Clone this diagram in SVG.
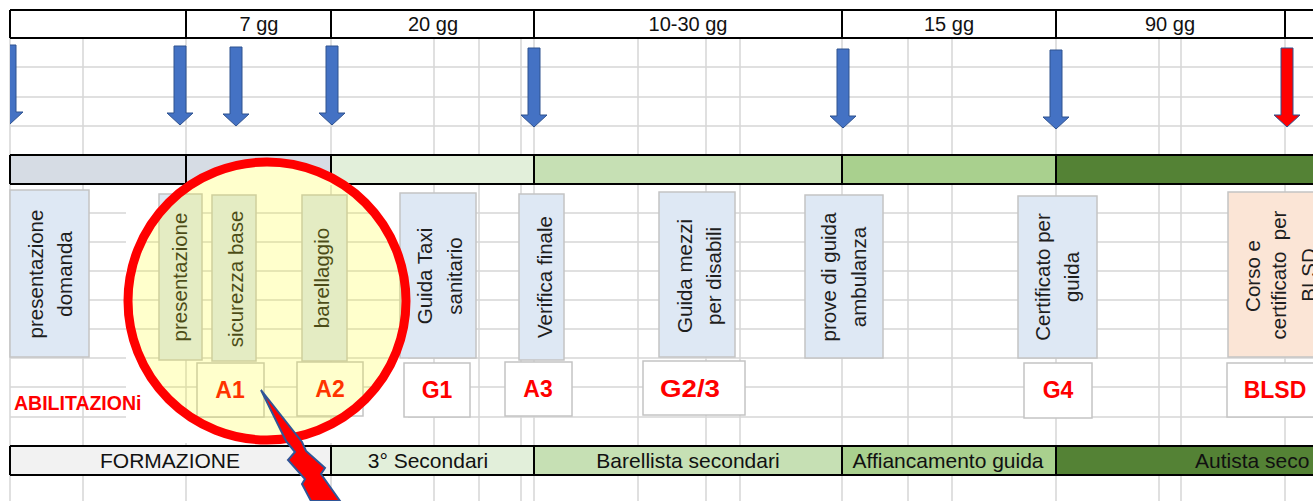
<svg xmlns="http://www.w3.org/2000/svg" xmlns:xlink="http://www.w3.org/1999/xlink" width="1313" height="501" viewBox="0 0 1313 501">
<style>
.grid{stroke:#d6d6d6;stroke-width:1.5;fill:none}
.blk{stroke:#000;stroke-width:2;fill:none}
.hdr{font-family:"Liberation Sans",Arial,sans-serif;font-size:20px;fill:#111;text-anchor:middle}
.bot{font-family:"Liberation Sans",Arial,sans-serif;font-size:21px;fill:#111;text-anchor:middle}
.rt{font-family:"Liberation Sans",Arial,sans-serif;font-size:20.5px;fill:#1e1e1e;text-anchor:middle}
.box{fill:#dee8f4;stroke:#c4c4c4;stroke-width:1.5}
.peach{fill:#fbe5d6;stroke:#c4c4c4;stroke-width:1.5}
.lbl{fill:#fff;stroke:#c4c4c4;stroke-width:1.5}
.lt{font-family:"Liberation Sans",Arial,sans-serif;font-size:23px;font-weight:bold;fill:#ff0000;text-anchor:middle}
.arrB{fill:#4472c4;stroke:#2f528f;stroke-width:1}
.arrR{fill:#ff0000;stroke:#2f528f;stroke-width:1}
</style>
<defs>
<polygon id="arr" points="-6,0 6,0 6,67 13,67 0,79 -13,67 -6,67"/>
<clipPath id="clipL"><rect x="10" y="0" width="1303" height="501"/></clipPath>
</defs>
<rect width="1313" height="501" fill="#fff"/>

<g id="grid">
<g class="grid">
<path d="M10 67H1313M10 97H1313M10 126H1313M10 213H1313M10 242H1313M10 271H1313M10 300H1313M10 329H1313M10 358H1313M10 387H1313M10 417H1313"/>
<path d="M10 38V501M83 38V501M186 38V501M331 38V501M434 38V501M479 38V501M521 38V501M534 38V501M638 38V501M706 38V501M740 38V501M842 38V501M908 38V501M952 38V501M1056 38V501M1159 38V501M1181 38V501M1285 38V501"/>
</g>
</g>

<g id="header">
<path class="blk" d="M10 10H1313M10 38H1313M10 10V38M186 10V38M331 10V38M534 10V38M842 10V38M1056 10V38M1285 10V38"/>
<text class="hdr" x="259" y="31">7 gg</text>
<text class="hdr" x="433" y="31">20 gg</text>
<text class="hdr" x="688" y="31">10-30 gg</text>
<text class="hdr" x="949" y="31">15 gg</text>
<text class="hdr" x="1170" y="31">90 gg</text>
</g>

<g id="phase-bar">
<rect x="10" y="155" width="176" height="29" fill="#d6dce4"/>
<rect x="186" y="155" width="145" height="29" fill="#d6dce4"/>
<rect x="331" y="155" width="203" height="29" fill="#e2efda"/>
<rect x="534" y="155" width="308" height="29" fill="#c6e0b4"/>
<rect x="842" y="155" width="214" height="29" fill="#a9d08e"/>
<rect x="1056" y="155" width="257" height="29" fill="#548235"/>
<path class="blk" d="M10 155H1313M10 184H1313M10 155V184M186 155V184M331 155V184M534 155V184M842 155V184M1056 155V184"/>
</g>

<g id="bottom-bar">
<rect x="10" y="446" width="321" height="29" fill="#f2f2f2"/>
<rect x="331" y="446" width="203" height="29" fill="#e2efda"/>
<rect x="534" y="446" width="308" height="29" fill="#c6e0b4"/>
<rect x="842" y="446" width="214" height="29" fill="#a9d08e"/>
<rect x="1056" y="446" width="257" height="29" fill="#548235"/>
<path class="blk" d="M10 446H1313M10 475H1313M10 446V475M331 446V475M534 446V475M842 446V475M1056 446V475"/>
<text class="bot" x="170" y="468">FORMAZIONE</text>
<text class="bot" x="428" y="468">3° Secondari</text>
<text class="bot" x="688" y="468">Barellista secondari</text>
<text class="bot" x="948" y="468">Affiancamento guida</text>
<text class="bot" x="1195" y="468" style="text-anchor:start">Autista seco</text>
</g>

<g id="magnifier-bg">
<path fill="#fff" fill-rule="evenodd" d="M126 185H408V443H126Z M128 301a139 139 0 1 0 278 0a139 139 0 1 0 -278 0Z"/>
</g>

<g id="arrows">
<g clip-path="url(#clipL)"><use xlink:href="#arr" class="arrB" x="10" y="45"/></g>
<use xlink:href="#arr" class="arrB" x="180" y="46"/>
<use xlink:href="#arr" class="arrB" x="236" y="47"/>
<use xlink:href="#arr" class="arrB" x="332" y="46"/>
<use xlink:href="#arr" class="arrB" x="534" y="48"/>
<use xlink:href="#arr" class="arrB" x="843" y="49"/>
<use xlink:href="#arr" class="arrB" x="1056" y="50"/>
<use xlink:href="#arr" class="arrR" x="1287" y="48"/>
</g>

<g id="n-presentazione-domanda">
<rect class="box" x="10" y="190" width="79" height="167"/>
<text class="rt" transform="translate(43 274) rotate(-90)">presentazione</text>
<text class="rt" transform="translate(72 274) rotate(-90)">domanda</text>
</g>
<g id="n-presentazione">
<rect class="box" x="159" y="194" width="43" height="166"/>
<text class="rt" transform="translate(187 277) rotate(-90)">presentazione</text>
</g>
<g id="n-sicurezza">
<rect class="box" x="212" y="195" width="44" height="166"/>
<text class="rt" transform="translate(243 279) rotate(-90)">sicurezza base</text>
</g>
<g id="n-barellaggio">
<rect class="box" x="302" y="195" width="45" height="166"/>
<text class="rt" transform="translate(329 278) rotate(-90)">barellaggio</text>
</g>
<g id="n-guida-taxi">
<rect class="box" x="400" y="193" width="76" height="165"/>
<text class="rt" transform="translate(432 276) rotate(-90)">Guida Taxi</text>
<text class="rt" transform="translate(462 276) rotate(-90)">sanitario</text>
</g>
<g id="n-verifica">
<rect class="box" x="519" y="194" width="45" height="166"/>
<text class="rt" transform="translate(552 277) rotate(-90)">Verifica finale</text>
</g>
<g id="n-guida-mezzi">
<rect class="box" x="659" y="192" width="76" height="165"/>
<text class="rt" transform="translate(692 276) rotate(-90)">Guida mezzi</text>
<text class="rt" transform="translate(721 276) rotate(-90)">per disabili</text>
</g>
<g id="n-prove">
<rect class="box" x="805" y="195" width="78" height="163"/>
<text class="rt" transform="translate(836 277) rotate(-90)">prove di guida</text>
<text class="rt" transform="translate(866 277) rotate(-90)">ambulanza</text>
</g>
<g id="n-certificato">
<rect class="box" x="1018" y="196" width="79" height="162"/>
<text class="rt" transform="translate(1050 277) rotate(-90)">Certificato per</text>
<text class="rt" transform="translate(1079 277) rotate(-90)">guida</text>
</g>
<g id="n-corso">
<rect class="peach" x="1228" y="192" width="110" height="165"/>
<text class="rt" transform="translate(1260 276) rotate(-90)">Corso e</text>
<text class="rt" xml:space="preserve" transform="translate(1286 275) rotate(-90)">certificato  per</text>
<text class="rt" transform="translate(1316 275) rotate(-90)">BLSD</text>
</g>

<g id="labels">
<text x="14" y="410" style="font-family:'Liberation Sans',Arial,sans-serif;font-size:19.5px;font-weight:bold;fill:#ff0000">ABILITAZIONi</text>
<g id="l-A1"><rect class="lbl" x="197" y="363" width="67" height="54"/><text class="lt" x="230" y="398">A1</text></g>
<g id="l-A2"><rect class="lbl" x="297" y="362" width="66" height="54"/><text class="lt" x="330" y="397">A2</text></g>
<g id="l-G1"><rect class="lbl" x="404" y="363" width="66" height="54"/><text class="lt" x="437" y="398">G1</text></g>
<g id="l-A3"><rect class="lbl" x="505" y="362" width="67" height="54"/><text class="lt" x="538" y="397">A3</text></g>
<g id="l-G23"><rect class="lbl" x="643" y="361" width="102" height="54"/><text class="lt" x="690" y="397" style="font-size:24px" textLength="60" lengthAdjust="spacingAndGlyphs">G2/3</text></g>
<g id="l-G4"><rect class="lbl" x="1024" y="363" width="68" height="55"/><text class="lt" x="1058" y="398">G4</text></g>
<g id="l-BLSD"><rect class="lbl" x="1227" y="363" width="110" height="54"/><text class="lt" x="1275" y="398">BLSD</text></g>
</g>

<g id="magnifier">
<circle cx="267" cy="301" r="139" fill="#ffff00" fill-opacity="0.2" stroke="#ff0000" stroke-width="9"/>
<polygon points="261,390 302,442 306,451 325,468 321,474 340,501 311,501 302,484 305,479 288,460 295,452 286,441" fill="#ff0000" stroke="#2f5597" stroke-width="2" stroke-linejoin="miter"/>
</g>
</svg>
